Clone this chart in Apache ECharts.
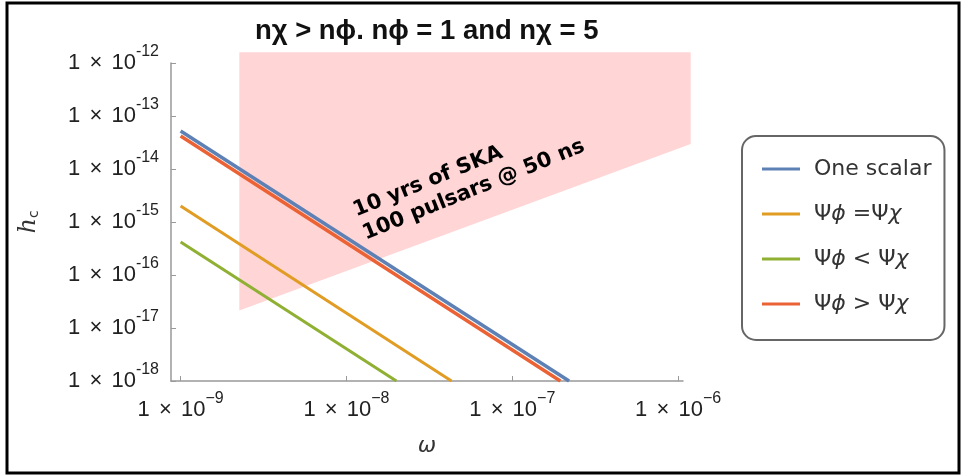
<!DOCTYPE html>
<html lang="en">
<head>
    <meta charset="UTF-8">
    <title>h_c vs omega</title>
    <script src="https://cdn.jsdelivr.net/npm/echarts@6/dist/echarts.min.js"></script>
    <style>
        body { margin: 0; padding: 0; background: #fff; }
        #chart { width: 963px; height: 475px; }
    </style>
</head>
<body>
<div id="chart"></div>
<script>
    // axis ranges and tick values (real units)
    const omegaRange = [8.75e-10, 1.07e-6];
    const hRange = [1e-18, 1e-12];
    const omegaTicks = [1e-9, 1e-8, 1e-7, 1e-6];

    // series: [omega, h_c]
    const seriesNames = ['One scalar', 'Ψϕ =Ψχ', 'Ψϕ < Ψχ', 'Ψϕ > Ψχ'];
    const seriesColors = ['#5E81B5', '#E19C24', '#8FB032', '#EB6235'];
    const oneScalar = [[1e-9, 5.2e-14], [2.2e-7, 1e-18]];
    const equalPsi = [[1e-9, 2.0e-15], [4.3e-8, 1e-18]];
    const lessPsi = [[1e-9, 4.2e-16], [2.0e-8, 1e-18]];
    const greaterPsi = [[1e-9, 4.2e-14], [1.95e-7, 1e-18]];

    // SKA sensitivity region corners
    const skaOmega = [2.26e-9, 1.19e-6, 1.19e-6, 2.26e-9];
    const skaH = [1.59e-12, 1.59e-12, 2.95e-14, 2.13e-17];

    const lg = v => Math.log10(v);
    const toLog = pts => pts.map(p => [lg(p[0]), lg(p[1])]);
    // "1 × 10^n" labels, exponent as superscript
    const supLabel = minus => v => '{a|1 }{x|×}{b| 10}{s|' + minus + Math.abs(Math.round(v)) + '}';
    const font = 'Liberation Sans';
    const labelRich = {
        a: { fontSize: 22, lineHeight: 38, color: '#222', fontFamily: font },
        x: { fontSize: 22, lineHeight: 38, color: '#222', fontFamily: font, padding: [0, 3, 0, 3] },
        b: { fontSize: 22, lineHeight: 38, color: '#222', fontFamily: font },
        s: { fontSize: 16, lineHeight: 16, color: '#222', verticalAlign: 'top', fontFamily: font }
    };

    const chart = echarts.init(document.getElementById('chart'));

    const lineData = [oneScalar, equalPsi, lessPsi, greaterPsi];
    const lineSeries = lineData.map((d, i) => ({
        name: seriesNames[i],
        type: 'line',
        data: toLog(d),
        showSymbol: false,
        symbol: 'none',
        lineStyle: { width: i === 0 || i === 3 ? 3.5 : 3, color: seriesColors[i] },
        itemStyle: { color: seriesColors[i] },
        z: 3
    }));

    chart.setOption({
        animation: false,
        grid: { left: 171, right: 280, top: 63, bottom: 94 },
        xAxis: {
            type: 'value',
            min: lg(omegaRange[0]),
            max: lg(omegaRange[1]),
            name: 'ω',
            nameLocation: 'middle',
            nameGap: 54,
            nameTextStyle: { fontSize: 22, fontStyle: 'italic', color: '#333', fontFamily: 'DejaVu Sans' },
            axisLine: { lineStyle: { color: '#999', width: 1.5 } },
            axisTick: { inside: true, length: 5, customValues: omegaTicks.map(lg), lineStyle: { color: '#999' } },
            axisLabel: {
                customValues: omegaTicks.map(lg),
                margin: 10,
                formatter: supLabel('−'),
                rich: labelRich
            },
            splitLine: { show: false }
        },
        yAxis: {
            type: 'value',
            min: lg(hRange[0]),
            max: lg(hRange[1]),
            interval: 1,
            name: '{h|h}{c|c}',
            nameLocation: 'middle',
            nameRotate: 90,
            nameGap: 130,
            nameTextStyle: {
                rich: {
                    h: { fontSize: 24, fontStyle: 'italic', color: '#333', fontFamily: 'DejaVu Serif' },
                    c: { fontSize: 14, color: '#333', verticalAlign: 'bottom', fontFamily: 'DejaVu Sans' }
                }
            },
            axisLine: { show: true, lineStyle: { color: '#999', width: 1.5 } },
            axisTick: { show: true, inside: true, length: 5, lineStyle: { color: '#999' } },
            axisLabel: { margin: 12, formatter: supLabel('-'), rich: labelRich },
            splitLine: { show: false }
        },
        legend: {
            orient: 'vertical',
            left: 742,
            top: 136,
            data: seriesNames.map(n => ({ name: n, icon: 'rect' })),
            itemWidth: 38,
            itemHeight: 3,
            itemGap: 21,
            padding: [21, 13, 24, 20],
            borderColor: '#666',
            borderWidth: 2,
            borderRadius: 14,
            backgroundColor: '#fff',
            formatter: n => n.replace(/([ϕχ])/g, '{i|$1}'),
            textStyle: {
                fontFamily: 'DejaVu Sans',
                fontSize: 22,
                lineHeight: 24,
                color: '#333',
                padding: [0, 0, 0, 9],
                rich: { i: { fontFamily: 'DejaVu Sans', fontStyle: 'italic', fontSize: 22, color: '#333' } }
            }
        },
        graphic: [
            {
                type: 'rect',
                shape: { x: 7, y: 3, width: 952, height: 470 },
                style: { fill: 'none', stroke: '#000', lineWidth: 3 },
                z: 100
            },
            {
                // title, slightly condensed bold
                type: 'text',
                x: 255,
                y: 31,
                scaleX: 0.98,
                style: {
                    text: 'nχ > nϕ. nϕ = 1 and nχ = 5',
                    fontFamily: font,
                    fontWeight: 'bold',
                    fontSize: 28,
                    fill: '#111',
                    align: 'left',
                    verticalAlign: 'middle'
                },
                z: 50
            },
            {
                type: 'text',
                x: 359,
                y: 223,
                rotation: 22 * Math.PI / 180,
                style: {
                    text: '10 yrs of SKA\n100 pulsars @ 50 ns',
                    fontFamily: 'DejaVu Sans',
                    fontWeight: 'bold',
                    fontSize: 21,
                    lineHeight: 25,
                    fill: '#000',
                    align: 'left',
                    verticalAlign: 'middle'
                },
                z: 50
            }
        ],
        series: [
            {
                name: 'SKA',
                type: 'custom',
                clip: false,
                silent: true,
                data: [0],
                renderItem: (params, api) => ({
                    type: 'polygon',
                    shape: { points: skaOmega.map((w, k) => api.coord([lg(w), lg(skaH[k])])) },
                    style: { fill: '#FFD5D5' },
                    z2: 0
                }),
                z: 1
            }
        ].concat(lineSeries)
    });
</script>
</body>
</html>
